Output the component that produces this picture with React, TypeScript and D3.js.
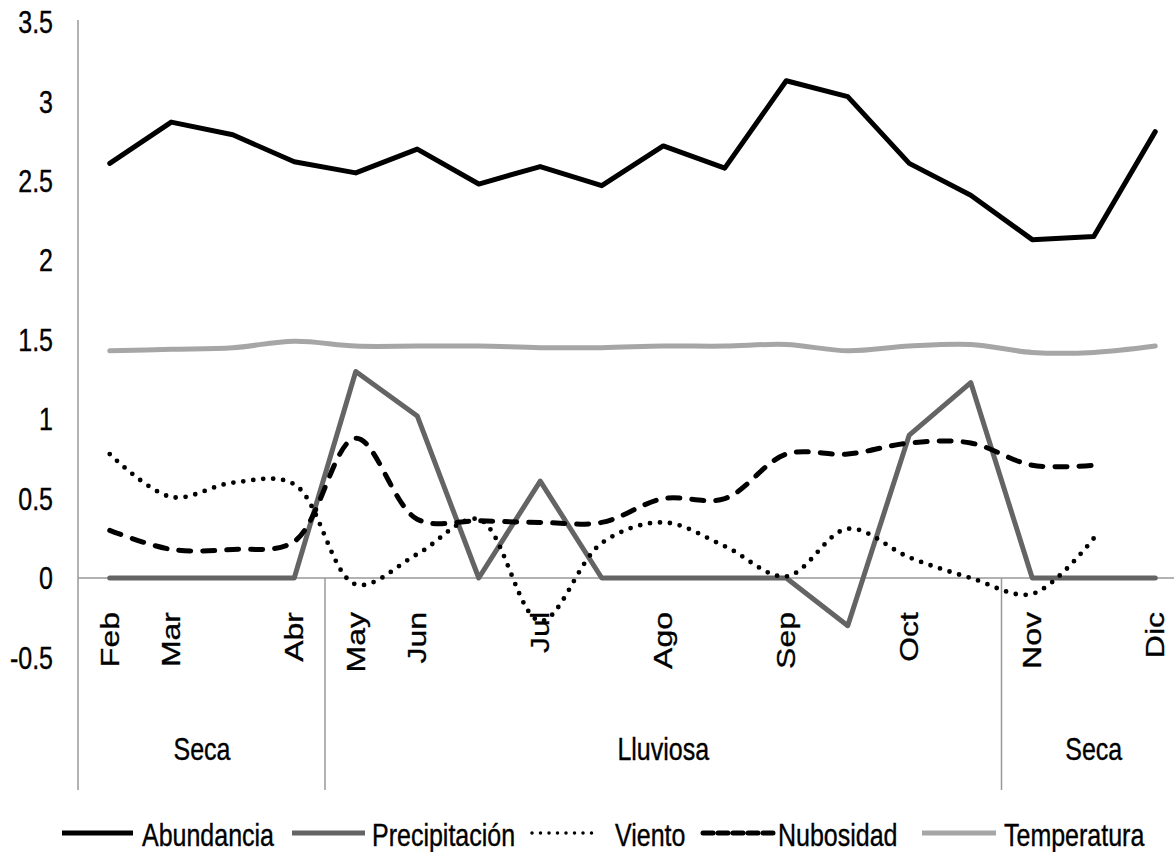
import React from 'react';
import * as d3 from 'd3';

// month labels, one per sample (blank = unlabelled point)
const months = ['Feb', 'Mar', '', 'Abr', 'May', 'Jun', '', 'Jul', '', 'Ago', '', 'Sep', '', 'Oct', '', 'Nov', '', 'Dic'];

const abundancia = [2.61, 2.87, 2.79, 2.62, 2.55, 2.7, 2.48, 2.59, 2.47, 2.72, 2.58, 3.13, 3.03, 2.61, 2.41, 2.13, 2.15, 2.81];
const precipitacion = [0, 0, 0, 0, 1.3, 1.02, 0, 0.61, 0, 0, 0, 0, -0.3, 0.9, 1.23, 0, 0, 0];
const viento = [0.78, 0.51, 0.6, 0.59, -0.04, 0.15, 0.37, -0.27, 0.22, 0.35, 0.2, 0.01, 0.31, 0.13, 0.0, -0.1, 0.25, null];
const nubosidad = [0.3, 0.18, 0.18, 0.23, 0.88, 0.37, 0.36, 0.35, 0.35, 0.5, 0.5, 0.78, 0.78, 0.85, 0.85, 0.71, 0.71, null];
const temperatura = [1.43, 1.44, 1.45, 1.49, 1.46, 1.46, 1.46, 1.45, 1.45, 1.46, 1.46, 1.47, 1.43, 1.46, 1.47, 1.42, 1.42, 1.46];

const yTicks = [-0.5, 0, 0.5, 1, 1.5, 2, 2.5, 3, 3.5];

const seasonNames = ['Seca', 'Lluviosa', 'Seca'];
const seasonStart = [0, 4, 15];
const seasonEnd = [3, 14, 17];

const W = 1174;
const H = 852;
const FONT = '"Liberation Sans", Arial, sans-serif';
const STRETCH = 1.28; // text in the source is drawn tall and narrow

type Series = {
  name: string;
  values: (number | null)[];
  color: string;
  width: number;
  dash?: string;
  legendDash?: string;
  legendWidth?: number;
  smooth: boolean;
};

const series: Series[] = [
  { name: 'Temperatura', values: temperatura, color: '#a6a6a6', width: 5, smooth: true },
  { name: 'Precipitación', values: precipitacion, color: '#646464', width: 5, smooth: false },
  { name: 'Viento', values: viento, color: '#000', width: 4.8, dash: '0 10', legendDash: '0 8.5', legendWidth: 3.5, smooth: true },
  { name: 'Nubosidad', values: nubosidad, color: '#000', width: 5, dash: '12 12', legendDash: '10 5', smooth: true },
  { name: 'Abundancia', values: abundancia, color: '#000', width: 5, smooth: false },
];

// legend order and layout
const legendOrder = ['Abundancia', 'Precipitación', 'Viento', 'Nubosidad', 'Temperatura'];
const legendLine = [[62, 133], [292, 365], [532, 600], [703, 775], [922, 996]];
const legendText = [142, 372, 615, 778, 1004];

export default function App() {
  const x = d3.scaleBand<number>().domain(d3.range(months.length)).range([79, 1186]);
  const cx = (i: number) => (x(i) as number) + x.bandwidth() / 2;
  const y = d3.scaleLinear().domain([0, 3.5]).range([578, 22]);

  const axisBottom = 790;

  return (
    <svg width={W} height={H} style={{ display: 'block', position: 'absolute', left: 0, top: 0, background: '#fff' }}
      fontFamily={FONT}>
      {/* y axis line and zero line */}
      <line x1={78} x2={78} y1={20} y2={axisBottom} stroke="#999" strokeWidth={1.5} />
      <line x1={78} x2={1186} y1={y(0)} y2={y(0)} stroke="#999" strokeWidth={1.5} />
      {/* season dividers */}
      {seasonStart.filter((s) => s > 0).map((s) => (
        <line key={s} x1={x(s)} x2={x(s)} y1={y(0)} y2={axisBottom} stroke="#999" strokeWidth={1.5} />
      ))}

      {/* y tick labels */}
      {yTicks.map((t) => (
        <text key={t} transform={`translate(53,${y(t)}) scale(1,${STRETCH})`} dy="0.35em" textAnchor="end"
          fontSize={25} fill="#000" stroke="#000" strokeWidth={0.3}>{t}</text>
      ))}

      {/* month labels */}
      {months.map((m, i) => m && (
        <text key={i} transform={`translate(${cx(i)},612) scale(1,${STRETCH}) rotate(-90)`} dy="0.35em"
          textAnchor="end" fontSize={25} fill="#000" stroke="#000" strokeWidth={0.3}>{m}</text>
      ))}

      {/* season labels */}
      {seasonNames.map((s, k) => {
        const x0 = x(seasonStart[k]) as number;
        const x1 = (x(seasonEnd[k]) as number) + x.bandwidth();
        return (
          <text key={k} transform={`translate(${(x0 + x1) / 2},760) scale(1,${STRETCH})`} textAnchor="middle"
            fontSize={25} fill="#000" stroke="#000" strokeWidth={0.3}>{s}</text>
        );
      })}

      {/* series */}
      {series.map((s) => {
        const line = d3.line<number | null>()
          .defined((d) => d !== null)
          .x((_, i) => cx(i))
          .y((d) => y(d as number))
          .curve(s.smooth ? d3.curveCatmullRom.alpha(0.5) : d3.curveLinear);
        return (
          <path key={s.name} d={line(s.values) || ''} fill="none" stroke={s.color} strokeWidth={s.width}
            strokeDasharray={s.dash} strokeLinecap="round" strokeLinejoin="round" />
        );
      })}

      {/* legend */}
      {legendOrder.map((name, k) => {
        const s = series.find((d) => d.name === name)!;
        const [lx0, lx1] = legendLine[k];
        return (
          <g key={name}>
            <line x1={lx0} x2={lx1} y1={833} y2={833} stroke={s.color} strokeWidth={s.legendWidth ?? s.width}
              strokeDasharray={s.legendDash} strokeLinecap={s.dash ? 'round' : 'butt'} />
            <text transform={`translate(${legendText[k]},846) scale(1,${STRETCH})`} fontSize={25} fill="#000"
              stroke="#000" strokeWidth={0.3}>{name}</text>
          </g>
        );
      })}
    </svg>
  );
}
